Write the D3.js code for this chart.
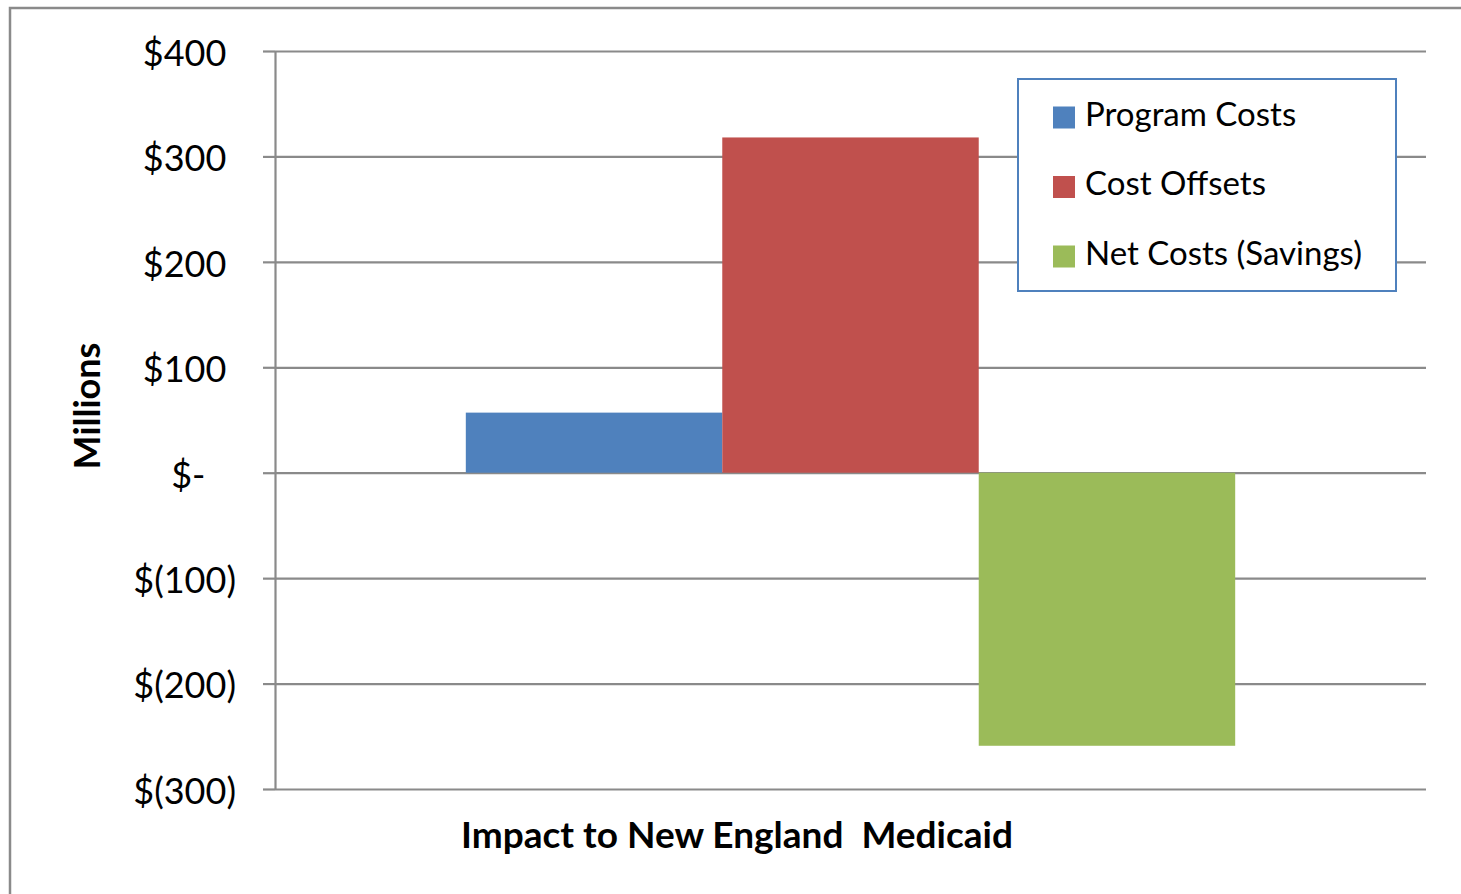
<!DOCTYPE html>
<html>
<head>
<script src="https://d3js.org/d3.v7.min.js" charset="utf-8"></script>
<style>
    body{
        margin:0;
        background:#fff;
        font-family:Lato,"Open Sans",sans-serif;
    }
</style>
</head>
<body>
<div id="chart"></div>
<script>

    var category = ["Impact to New England  Medicaid"]
    var seriesNames = ["Program Costs","Cost Offsets","Net Costs (Savings)"]
    var seriesValues = [57, 318, -259]
    var seriesColors = ["#4F81BD","#C0504D","#9BBB59"]
    var yTicks = [400,300,200,100,0,-100,-200,-300]

    var width = 1461, height = 894
    var plotLeft = 275, plotRight = 1426, plotTop = 51, plotBottom = 789
    var gridColor = "#8a8a8a"

    var svg = d3.select("#chart").append("svg")
        .attr("width",width)
        .attr("height",height)

    // outer chart border (right and bottom run off the picture)
    svg.append("rect")
        .attr("x",10).attr("y",8)
        .attr("width",width).attr("height",height)
        .attr("fill","white")
        .attr("stroke",gridColor)
        .attr("stroke-width",2.5)

    var y = d3.scaleLinear().domain([-300,400]).range([plotBottom,plotTop])

    var x0 = d3.scaleBand().domain(category).range([plotLeft,plotRight]).paddingOuter(0.248).paddingInner(0)
    var x1 = d3.scaleBand().domain(seriesNames).range([0,x0.bandwidth()]).padding(0)

    // gridlines
    var grid = svg.append("g").attr("transform","translate("+plotLeft+",0)")
        .call(d3.axisLeft(y).tickValues(yTicks).tickSize(-(plotRight-plotLeft)).tickFormat(""))
    grid.select(".domain").remove()
    grid.selectAll("line").attr("stroke",gridColor).attr("stroke-width",2.2)

    // y axis
    function fmt(v){
        if(v>0) return "$"+v
        if(v<0) return "$("+(-v)+")"
        return "$-"
    }
    var yAxis = svg.append("g").attr("transform","translate("+plotLeft+",0)")
        .call(d3.axisLeft(y).tickValues(yTicks).tickSize(12).tickSizeOuter(0).tickPadding(27).tickFormat(""))
    yAxis.select(".domain").attr("stroke",gridColor).attr("stroke-width",2.2)
    yAxis.selectAll(".tick line").attr("stroke",gridColor).attr("stroke-width",2.2)
    yAxis.selectAll(".tick text").each(function(v){
        var t = d3.select(this)
            .attr("font-family","Lato, sans-serif")
            .attr("font-size",36)
            .attr("dy","0.4em")
            .attr("fill","black")
        t.append("tspan").text(fmt(v))
        // invisible padding so digits line up like the accounting format
        var pad = v>0 ? ")" : (v==0 ? "0)" : "")
        if(pad) t.append("tspan").attr("fill-opacity",0).text(pad)
    })

    // bars
    var bars = svg.append("g")
    category.forEach(function(c){
        bars.selectAll("rect.bar")
            .data(seriesValues)
            .enter()
            .append("rect")
            .attr("class","bar")
            .attr("x",function(d,i){return x0(c)+x1(seriesNames[i])})
            .attr("width",x1.bandwidth())
            .attr("y",function(d){return y(Math.max(0,d))})
            .attr("height",function(d){return Math.abs(y(d)-y(0))})
            .attr("fill",function(d,i){return seriesColors[i]})
    })

    // axis titles
    svg.append("text")
        .text(category[0])
        .attr("x",737).attr("y",848)
        .attr("text-anchor","middle")
        .attr("font-weight","bold")
        .attr("font-size",37)
        .style("white-space","pre")

    svg.append("text")
        .text("Millions")
        .attr("transform","translate(100,406) rotate(-90)")
        .attr("text-anchor","middle")
        .attr("font-weight","bold")
        .attr("font-size",36)

    // legend
    var legend = svg.append("g")
    legend.append("rect")
        .attr("x",1018).attr("y",79)
        .attr("width",378).attr("height",212)
        .attr("fill","white")
        .attr("stroke","#4F81BD")
        .attr("stroke-width",2)
    var legendY = d3.scalePoint().domain(seriesNames).range([117.5,256.5])
    seriesNames.forEach(function(n,i){
        legend.append("rect")
            .attr("x",1053).attr("y",legendY(n)-11)
            .attr("width",22).attr("height",22)
            .attr("fill",seriesColors[i])
        legend.append("text")
            .text(n)
            .attr("x",1085).attr("y",legendY(n))
            .attr("dy","0.25em")
            .attr("font-size",33)
    })

</script>
</body>
</html>
